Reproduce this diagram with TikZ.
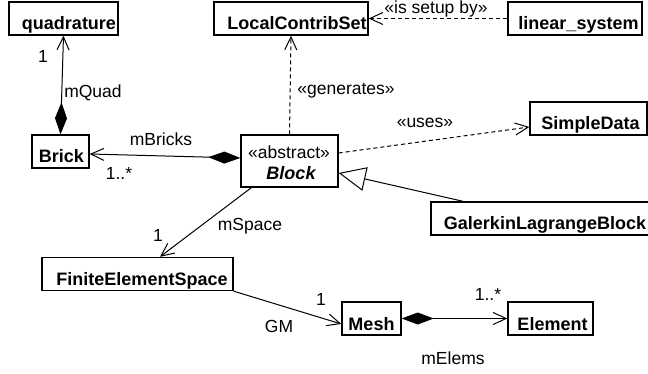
\documentclass[tikz,border=0pt]{standalone}
\usepackage{fontspec}
\setmainfont{Liberation Sans}
\usetikzlibrary{arrows.meta}
\begin{document}
\begin{tikzpicture}[x=1pt,y=-1pt,
  box/.style={draw, line width=1.4pt, inner sep=0pt, font=\fontsize{18}{20}\selectfont\bfseries,
    text height=28pt, text depth=5pt, minimum height=33pt},
  lbl/.style={font=\fontsize{17.5}{20}\selectfont, inner sep=0pt, anchor=base},
  conn/.style={line width=1pt},
  dsh/.style={conn, dash pattern=on 4pt off 3pt},
  openarr/.style={-{Straight Barb[length=13pt,width=12pt]}},
  comp/.style={{Diamond[length=32pt,width=12pt]}-{Straight Barb[length=13pt,width=12pt]}},
  gen/.style={-{Triangle[open,length=27pt,width=24pt]}}
]
\useasboundingbox (0,0) rectangle (648,374);
% boxes
\node[box, minimum width=109pt] (quad) at (63.5,18.5) {\hspace*{11pt}quadrature};
\node[box, minimum width=154pt] (lcs) at (291,18.5) {\hspace*{12pt}LocalContribSet};
\node[box, minimum width=134pt] (lin) at (575,18.5) {\hspace*{7pt}linear\_system};
\node[box, minimum width=57pt] (brick) at (60.5,151.5) {\hspace*{2pt}Brick};
\node[draw, line width=1.4pt, inner sep=0pt, minimum width=97pt, minimum height=52pt] (block) at (289.5,161) {};
\node[lbl] (blockst) at (289,159) {«abstract»};
\node[lbl, font=\fontsize{18}{20}\selectfont\bfseries\itshape] (blockname) at (291,180) {Block};
\node[box, minimum width=117pt] (simple) at (588.5,118.5) {\hspace*{4pt}SimpleData};
\node[box, minimum width=235pt] (gal) at (548.5,218.5) {\hspace*{-7pt}GalerkinLagrangeBlock};
\node[box, minimum width=191pt] (fes) at (137.5,274) {\hspace*{9pt}FiniteElementSpace};
\node[box, minimum width=59pt] (mesh) at (371.5,318.5) {Mesh};
\node[box, minimum width=85pt] (elem) at (550.5,318.5) {\hspace*{4pt}Element};
% connectors
\draw[conn, comp] (brick.north) -- (quad.south);
\draw[conn, comp] ([yshift=3pt]block.west) -- ([yshift=-2.5pt]brick.east);
\draw[dsh, openarr] (block.north) -- (lcs.south);
\draw[dsh, openarr] (lin.west) -- (lcs.east);
\draw[dsh, openarr] ([yshift=8pt]block.east) -- ([yshift=-8.5pt]simple.west);
\draw[conn, gen] ([xshift=-85.5pt]gal.north) -- ([yshift=-12pt]block.east);
\draw[conn, openarr] ([xshift=11pt]block.south west) -- ([xshift=22.5pt]fes.north);
\draw[conn, openarr] (fes.south east) -- ([yshift=-5.5pt]mesh.west);
\draw[conn, comp] (mesh.east) -- (elem.west);
% labels
\node[lbl] (l1) at (43,63) {1};
\node[lbl] (l2) at (93,98) {mQuad};
\node[lbl] (l3) at (161,146) {mBricks};
\node[lbl] (l4) at (119,180) {1..*};
\node[lbl] (l5) at (346,95) {«generates»};
\node[lbl] (l6) at (425,128) {«uses»};
\node[lbl] (l7) at (436,14) {«is setup by»};
\node[lbl] (l8) at (158,242) {1};
\node[lbl] (l9) at (250,231) {mSpace};
\node[lbl] (l10) at (321,305) {1};
\node[lbl] (l11) at (279,332) {GM};
\node[lbl] (l12) at (488,300) {1..*};
\node[lbl] (l13) at (453,364) {mElems};
\end{tikzpicture}
\end{document}
